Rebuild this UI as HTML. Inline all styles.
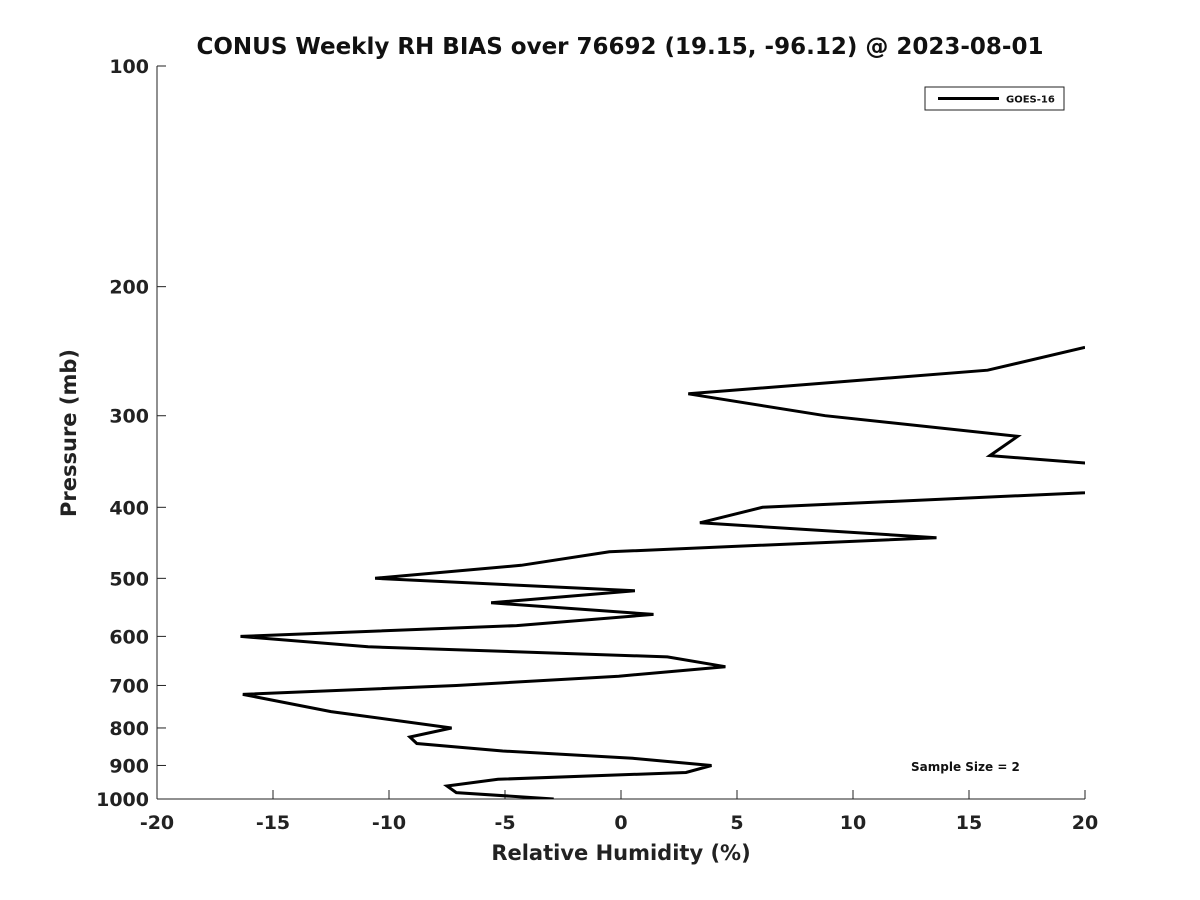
<!DOCTYPE html>
<html><head><meta charset="utf-8"><style>
html,body{margin:0;padding:0;background:#fff;}
svg{display:block;font-family:"DejaVu Sans","Liberation Sans",sans-serif;font-weight:bold;}
</style></head><body>
<svg id="chart" width="1200" height="900" viewBox="0 0 1200 900">
<defs><clipPath id="plotclip"><rect x="157" y="66" width="928" height="733"/></clipPath></defs>
<text x="620" y="54" text-anchor="middle" font-size="23" fill="#111">CONUS Weekly RH BIAS over 76692 (19.15, -96.12) @ 2023-08-01</text>
<g id="axes"></g>
<g id="series" clip-path="url(#plotclip)"></g>
<rect x="925" y="87" width="139" height="23" fill="#fff" stroke="#222" stroke-width="1"/>
<line x1="938" y1="98.5" x2="999" y2="98.5" stroke="#000" stroke-width="3"/>
<text x="1006" y="102.5" font-size="10" fill="#111">GOES-16</text>
<text x="911" y="771" font-size="12" fill="#111">Sample Size = 2</text>
<text x="621" y="860" text-anchor="middle" font-size="21" fill="#222">Relative Humidity (%)</text>
<text transform="translate(76,433) rotate(-90)" text-anchor="middle" font-size="21" fill="#222">Pressure (mb)</text>
</svg>
<script>
const pressures = [242,260,280,300,320,340,348,365,382,400,420,440,460,480,500,520,540,560,580,600,620,640,660,680,700,720,760,800,823,840,860,880,900,920,940,960,980,1000];
const rhBias = [20,15.8,2.9,8.8,17.1,15.9,20,26,20,6.1,3.4,13.6,-0.5,-4.3,-10.6,0.6,-5.6,1.4,-4.5,-16.4,-10.9,2.0,4.5,-0.1,-7.1,-16.3,-12.5,-7.3,-9.1,-8.8,-5.1,0.5,3.9,2.8,-5.3,-7.5,-7.1,-2.9];
const xTicks = [-20,-15,-10,-5,0,5,10,15,20];
const yTicks = [100,200,300,400,500,600,700,800,900,1000];
const NS='http://www.w3.org/2000/svg';
const X0=157,X1=1085,Y0=66,Y1=799;
function xs(v){return X0+(v+20)/40*(X1-X0);}
function ys(p){return Y0+(Math.log10(p)-2)*(Y1-Y0);}
const axes=document.getElementById('axes');
function mk(tag,attrs,parent){const e=document.createElementNS(NS,tag);for(const k in attrs)e.setAttribute(k,attrs[k]);parent.appendChild(e);return e;}
const ya=mk('line',{x1:X0,y1:Y0,x2:X0,y2:Y1,stroke:'#222','stroke-width':1},axes);


const xa=mk('line',{x1:X0,y1:Y1,x2:X1,y2:Y1,stroke:'#222','stroke-width':1},axes);


xTicks.forEach(v=>{
  const t=mk('line',{x1:xs(v),y1:Y1,x2:xs(v),y2:Y1-9,stroke:'#222','stroke-width':1},axes);
  
  
  const l=mk('text',{x:xs(v),y:Y1+30,'text-anchor':'middle','font-size':19,fill:'#222'},axes);
  l.textContent=v;
  
  
});
yTicks.forEach(p=>{
  const t=mk('line',{x1:X0,y1:ys(p),x2:X0+9,y2:ys(p),stroke:'#222','stroke-width':1},axes);
  
  
  const l=mk('text',{x:X0-8,y:ys(p)+7,'text-anchor':'end','font-size':19,fill:'#222'},axes);
  l.textContent=p;
  
  
});
const pts=pressures.map((p,i)=>xs(rhBias[i]).toFixed(1)+','+ys(p).toFixed(1)).join(' ');
const line=mk('polyline',{points:pts,fill:'none',stroke:'#000','stroke-width':3,'stroke-linejoin':'miter'},document.getElementById('series'));


</script>
</body></html>
